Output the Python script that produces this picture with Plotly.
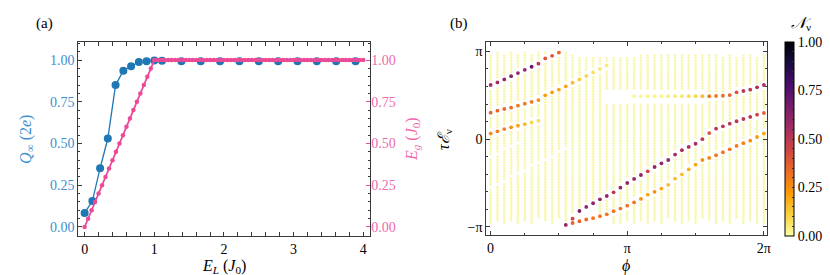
import plotly.graph_objects as go

# ---------------- Panel (a) data ----------------
EL_Q = [0.0, 0.111, 0.222, 0.333, 0.444, 0.556, 0.667, 0.778, 0.889, 1.0, 1.111,
        1.389, 1.667, 1.944, 2.222, 2.5, 2.778, 3.056, 3.333, 3.611, 3.889]
Q_inf = [0.084, 0.155, 0.352, 0.53, 0.85, 0.936, 0.963, 0.988, 0.993, 0.997, 0.996,
         0.993, 0.993, 0.993, 0.993, 0.993, 0.993, 0.993, 0.993, 0.993, 0.993]
EL_g = [0.00, 0.05, 0.10, 0.15, 0.20, 0.25, 0.30, 0.35, 0.40, 0.45, 0.50, 0.55, 0.60, 0.65,
        0.70, 0.75, 0.80, 0.85, 0.90, 0.95, 1.00, 1.05, 1.10, 1.15, 1.20, 1.25, 1.30, 1.35,
        1.40, 1.45, 1.50, 1.55, 1.60, 1.65, 1.70, 1.75, 1.80, 1.85, 1.90, 1.95, 2.00, 2.05,
        2.10, 2.15, 2.20, 2.25, 2.30, 2.35, 2.40, 2.45, 2.50, 2.55, 2.60, 2.65, 2.70, 2.75,
        2.80, 2.85, 2.90, 2.95, 3.00, 3.05, 3.10, 3.15, 3.20, 3.25, 3.30, 3.35, 3.40, 3.45,
        3.50, 3.55, 3.60, 3.65, 3.70, 3.75, 3.80, 3.85, 3.90, 3.95, 4.00]
E_g = [0.00, 0.05, 0.10, 0.15, 0.20, 0.25, 0.30, 0.35, 0.40, 0.45, 0.50, 0.55, 0.60, 0.65,
       0.70, 0.75, 0.80, 0.85, 0.90, 0.95, 1.00, 1.00, 1.00, 1.00, 1.00, 1.00, 1.00, 1.00,
       1.00, 1.00, 1.00, 1.00, 1.00, 1.00, 1.00, 1.00, 1.00, 1.00, 1.00, 1.00, 1.00, 1.00,
       1.00, 1.00, 1.00, 1.00, 1.00, 1.00, 1.00, 1.00, 1.00, 1.00, 1.00, 1.00, 1.00, 1.00,
       1.00, 1.00, 1.00, 1.00, 1.00, 1.00, 1.00, 1.00, 1.00, 1.00, 1.00, 1.00, 1.00, 1.00,
       1.00, 1.00, 1.00, 1.00, 1.00, 1.00, 1.00, 1.00, 1.00, 1.00, 1.00]
Q_ticks = [0.0, 0.25, 0.5, 0.75, 1.0]
Q_ticklabels = ["0.00", "0.25", "0.50", "0.75", "1.00"]

# ---------------- Panel (b) data (phi and energies in units of pi) ----------------
PHI_STEP = 0.05          # phi index k -> phi = k * 0.05 pi
N_LEVELS = 64            # quasi-energy grid rows over [-pi, pi]
# bulk (N ~ 0) quasi-energies, per phi column: runs of occupied grid rows (bottom row 0)
bulk_runs = [
    [(1, 13), (15, 24), (26, 32), (36, 39), (43, 49), (53, 62)],
    [(2, 14), (16, 25), (27, 32), (36, 40), (44, 50), (54, 63)],
    [(1, 15), (17, 27), (29, 33), (37, 41), (45, 51), (55, 62)],
    [(2, 17), (19, 28), (30, 34), (38, 41), (45, 52), (56, 63)],
    [(1, 18), (20, 29), (31, 34), (38, 42), (46, 54), (58, 62)],
    [(2, 19), (21, 35), (39, 42), (46, 55), (59, 63)],
    [(1, 21), (23, 36), (40, 43), (47, 56), (60, 62)],
    [(3, 22), (24, 36), (40, 44), (48, 57), (61, 63)],
    [(2, 23), (25, 46), (50, 59), (63, 63)],
    [(1, 24), (26, 47), (51, 60)],
    [(3, 26), (28, 48), (52, 61)],
    [(2, 27), (29, 49), (53, 63)],
    [(5, 50), (54, 62)],
    [(7, 51), (55, 61)],
    [(9, 53), (57, 61)],
    [(10, 54), (58, 61)],
    [(5, 8), (12, 55), (59, 61)],
    [(6, 9), (13, 44), (50, 56), (60, 61)],
    [(1, 3), (7, 10), (14, 44), (50, 61)],
    [(1, 4), (8, 12), (16, 44), (50, 61)],
    [(2, 5), (9, 14), (18, 44), (50, 61)],
    [(1, 7), (11, 15), (19, 44), (50, 61)],
    [(2, 8), (12, 16), (20, 44), (50, 62)],
    [(1, 9), (13, 18), (22, 44), (50, 62)],
    [(2, 10), (14, 19), (23, 44), (50, 62)],
    [(1, 12), (16, 21), (25, 44), (50, 62)],
    [(3, 13), (17, 22), (26, 44), (50, 62)],
    [(2, 15), (19, 24), (28, 44), (50, 62)],
    [(1, 17), (21, 26), (30, 44), (50, 62)],
    [(2, 19), (23, 27), (31, 44), (50, 62)],
    [(1, 20), (24, 28), (32, 44), (50, 62)],
    [(3, 22), (26, 29), (33, 44), (50, 62)],
    [(2, 23), (27, 32), (36, 45), (49, 62)],
    [(1, 24), (28, 33), (37, 45), (49, 62)],
    [(2, 25), (29, 34), (38, 45), (49, 61)],
    [(1, 26), (30, 35), (39, 46), (50, 62)],
    [(3, 27), (31, 36), (40, 47), (51, 61)],
    [(1, 28), (32, 37), (41, 47), (51, 62)],
    [(2, 29), (33, 38), (42, 48), (52, 62)],
    [(1, 30), (34, 38), (42, 48), (52, 61)],
    [(1, 32), (36, 39), (43, 49), (53, 62)],
]
# edge-localised quasi-energies: phi index, tau*E/pi, weight N
edge_k = [0, 1, 2, 3, 4, 5, 6, 7, 8, 9, 10,
          11, 12, 13, 14, 15, 16, 17, 18, 19, 20, 21, 22, 23, 24, 25, 26, 27, 28, 29, 30, 31,
          32, 33, 34, 35, 36, 37, 38, 39, 40,
          0, 1, 2, 3, 4, 5, 6, 7, 8, 9, 10, 11, 12, 13, 14, 15, 16, 17,
          12, 13, 14, 15, 16, 17, 18, 19, 20, 21, 22, 23, 24, 25, 26,
          27, 28, 29, 30, 31, 32, 33, 34, 35, 36, 37, 38, 39, 40,
          0, 1, 2, 3, 4, 5, 6, 7,
          21, 22, 23, 24, 25, 26, 27, 28, 29, 30, 31,
          32, 33, 34, 35, 36, 37, 38, 39, 40]
edge_E = [0.617, 0.647, 0.681, 0.718, 0.753, 0.790, 0.825, 0.86, 0.92, 0.95, 0.987,
          -0.977, -0.905, -0.818, -0.772, -0.73, -0.685, -0.647, -0.605, -0.552, -0.499, -0.453,
          -0.408, -0.366, -0.317, -0.275, -0.237, -0.175, -0.125, -0.088, -0.052, 0.0,
          0.07, 0.12, 0.147, 0.177, 0.204, 0.23, 0.253, 0.279, 0.298,
          0.302, 0.325, 0.344, 0.359, 0.382, 0.404, 0.424, 0.446, 0.5, 0.534, 0.564, 0.602,
          0.643, 0.68, 0.72, 0.76, 0.80, 0.84,
          -0.955, -0.935, -0.915, -0.9, -0.878, -0.856, -0.82, -0.79, -0.757, -0.72, -0.68,
          -0.632, -0.60, -0.563, -0.52,
          -0.45, -0.40, -0.345, -0.29, -0.237, -0.214, -0.183, -0.149, -0.115, -0.077, -0.045,
          -0.017, 0.025, 0.065,
          0.065, 0.09, 0.115, 0.135, 0.153, 0.17, 0.19, 0.21,
          0.49, 0.49, 0.49, 0.49, 0.49, 0.49, 0.49, 0.49, 0.49, 0.49, 0.49,
          0.489, 0.492, 0.495, 0.503, 0.534, 0.549, 0.564, 0.591, 0.617]
edge_N = [0.55, 0.55, 0.6, 0.62, 0.6, 0.6, 0.7, 0.5, 0.4, 0.4, 0.35,
          0.6, 0.45, 0.65, 0.6, 0.6, 0.6, 0.6, 0.5, 0.6, 0.6, 0.6, 0.6, 0.45, 0.6, 0.6, 0.6,
          0.55, 0.55, 0.55, 0.55, 0.5,
          0.4, 0.5, 0.5, 0.5, 0.5, 0.5, 0.5, 0.45, 0.35,
          0.35, 0.35, 0.33, 0.33, 0.3, 0.3, 0.3, 0.25, 0.22, 0.22, 0.2, 0.2, 0.15, 0.12, 0.1,
          0.08, 0.06, 0.05,
          0.35, 0.35, 0.33, 0.3, 0.3, 0.3, 0.3, 0.3, 0.3, 0.3, 0.25, 0.2, 0.25, 0.2, 0.15,
          0.15, 0.15, 0.18, 0.2, 0.25, 0.28, 0.3, 0.3, 0.3, 0.3, 0.28, 0.25, 0.22, 0.2,
          0.25, 0.28, 0.28, 0.25, 0.2, 0.15, 0.1, 0.08,
          0.02, 0.02, 0.03, 0.03, 0.03, 0.04, 0.05, 0.06, 0.08, 0.1, 0.15,
          0.3, 0.3, 0.32, 0.35, 0.4, 0.5, 0.5, 0.55, 0.55]
N_ticks = [0.0, 0.05, 0.1, 0.15, 0.2, 0.25, 0.3, 0.35, 0.4, 0.45, 0.5,
           0.55, 0.6, 0.65, 0.7, 0.75, 0.8, 0.85, 0.9, 0.95, 1.0]
N_ticklabels = ["0.00", "", "", "", "", "0.25", "", "", "", "", "0.50",
                "", "", "", "", "0.75", "", "", "", "", "1.00"]

FONT = "Liberation Serif"
BLUE = "#1f77b4"
BLUE_TXT = "#3d8fd1"
PINK = "#ec4a97"
PINK_TXT = "#f069ad"
AX = "#3a3a3a"
BULK_COLOR = "#f7f59a"

W, H = 830, 275
def px_x(p):
    return p / W
def px_y(p):
    return 1 - p / H

fig = go.Figure()

fig.add_trace(go.Scatter(x=EL_Q, y=Q_inf, mode="lines+markers",
                         line=dict(color=BLUE, width=1.3),
                         marker=dict(size=8, color=BLUE),
                         xaxis="x", yaxis="y", showlegend=False))
fig.add_trace(go.Scatter(x=EL_g, y=E_g, mode="lines+markers",
                         line=dict(color=PINK, width=1.8),
                         marker=dict(size=4.5, color=PINK),
                         xaxis="x", yaxis="y2", showlegend=False))

# bulk points
bx, by = [], []
for k, runs in enumerate(bulk_runs):
    for a, b in runs:
        for j in range(a, b + 1):
            bx.append(k * PHI_STEP)
            by.append(-1 + (j + 0.5) * 2 / N_LEVELS)
fig.add_trace(go.Scatter(x=bx, y=by, mode="markers",
                         marker=dict(size=2.7, color=BULK_COLOR, opacity=0.8),
                         xaxis="x2", yaxis="y3", showlegend=False, hoverinfo="skip"))

# edge points, higher N drawn on top
order = sorted(range(len(edge_N)), key=lambda i: edge_N[i])
fig.add_trace(go.Scatter(
    x=[edge_k[i] * PHI_STEP for i in order],
    y=[edge_E[i] for i in order],
    mode="markers",
    marker=dict(size=3.8, color=[edge_N[i] for i in order], colorscale="inferno_r",
                cmin=0, cmax=1, showscale=True,
                colorbar=dict(x=px_x(780.7), xanchor="left", y=px_y(228), yanchor="bottom",
                              len=194 / H, lenmode="fraction", thickness=9,
                              xpad=0, ypad=0, outlinewidth=1, outlinecolor="black",
                              tickvals=N_ticks, ticktext=N_ticklabels,
                              ticks="inside", ticklen=2, tickcolor="#333333",
                              tickfont=dict(size=14, family=FONT, color="black"))),
    xaxis="x2", yaxis="y3", showlegend=False))

axis_common = dict(showgrid=False, zeroline=False, showline=True, linecolor=AX, linewidth=1.2,
                   ticks="inside", ticklen=4, tickwidth=1, tickcolor=AX, mirror="allticks")

fig.update_layout(
    width=W, height=H, margin=dict(l=0, r=0, t=0, b=0),
    paper_bgcolor="white", plot_bgcolor="white",
    font=dict(family=FONT, size=14, color="black"),
    xaxis=dict(domain=[px_x(70.7), px_x(364)], range=[-0.09, 4.1], anchor="y",
               tickvals=[0, 1, 2, 3, 4], tickfont=dict(size=14),
               minor=dict(dtick=0.2, ticklen=2, tickcolor=AX, ticks="inside"),
               **axis_common),
    yaxis=dict(domain=[px_y(228), px_y(34)], range=[-0.054, 1.108], anchor="x",
               tickvals=Q_ticks, ticktext=Q_ticklabels,
               tickfont=dict(size=14, color=BLUE_TXT),
               minor=dict(dtick=0.05, ticklen=2, tickcolor=AX, ticks="inside"),
               showgrid=False, zeroline=False, showline=True, linecolor=AX, linewidth=1.2,
               ticks="inside", ticklen=4, tickcolor=AX, mirror=True),
    yaxis2=dict(overlaying="y", side="right", range=[-0.054, 1.108], anchor="x",
                tickvals=Q_ticks, ticktext=Q_ticklabels,
                tickfont=dict(size=14, color=PINK_TXT),
                minor=dict(dtick=0.05, ticklen=2, tickcolor=AX, ticks="inside"),
                showgrid=False, zeroline=False, showline=False,
                ticks="inside", ticklen=4, tickcolor=PINK),
    xaxis2=dict(domain=[px_x(480.7), px_x(762.3)], range=[-0.031, 2.02], anchor="y3",
                tickvals=[0, 1, 2], ticktext=["0", "π", "2π"], tickfont=dict(size=14),
                minor=dict(dtick=0.25, ticklen=2, tickcolor=AX, ticks="inside"),
                **axis_common),
    yaxis3=dict(domain=[px_y(226.7), px_y(34)], range=[-1.088, 1.107], anchor="x2",
                tickvals=[-1, 0, 1], ticktext=["−π", "0", "π"], tickfont=dict(size=14),
                minor=dict(dtick=0.2, ticklen=2, tickcolor=AX, ticks="inside"),
                **axis_common),
)

ann = [
    dict(text="(a)", x=px_x(37), y=px_y(15)),
    dict(text="(b)", x=px_x(453), y=px_y(15)),
    dict(text="<i>Q</i><sub>∞</sub> (2<i>e</i>)", x=px_x(18), y=px_y(131), textangle=-90,
         font=dict(size=16, color=BLUE_TXT, family=FONT)),
    dict(text="<i>E<sub>g</sub></i> (<i>J</i><sub>0</sub>)", x=px_x(406), y=px_y(131), textangle=-90,
         font=dict(size=16, color=PINK_TXT, family=FONT)),
    dict(text="<i>E<sub>L</sub></i> (<i>J</i><sub>0</sub>)", x=px_x(217), y=px_y(258),
         font=dict(size=16, family=FONT)),
    dict(text="<i>ϕ</i>", x=px_x(621), y=px_y(258), font=dict(size=16, family=FONT)),
    dict(text="<i>τℰ</i><sub>ν</sub>", x=px_x(438), y=px_y(131), textangle=-90,
         font=dict(size=16, family=FONT)),
    dict(text="<i>𝒩</i><sub>ν</sub>", x=px_x(797), y=px_y(15), font=dict(size=16, family=FONT)),
]
for a in ann:
    a.setdefault("font", dict(size=15, family=FONT))
    fig.add_annotation(xref="paper", yref="paper", showarrow=False,
                       xanchor="center", yanchor="middle", **a)

fig.write_html("out.html")
